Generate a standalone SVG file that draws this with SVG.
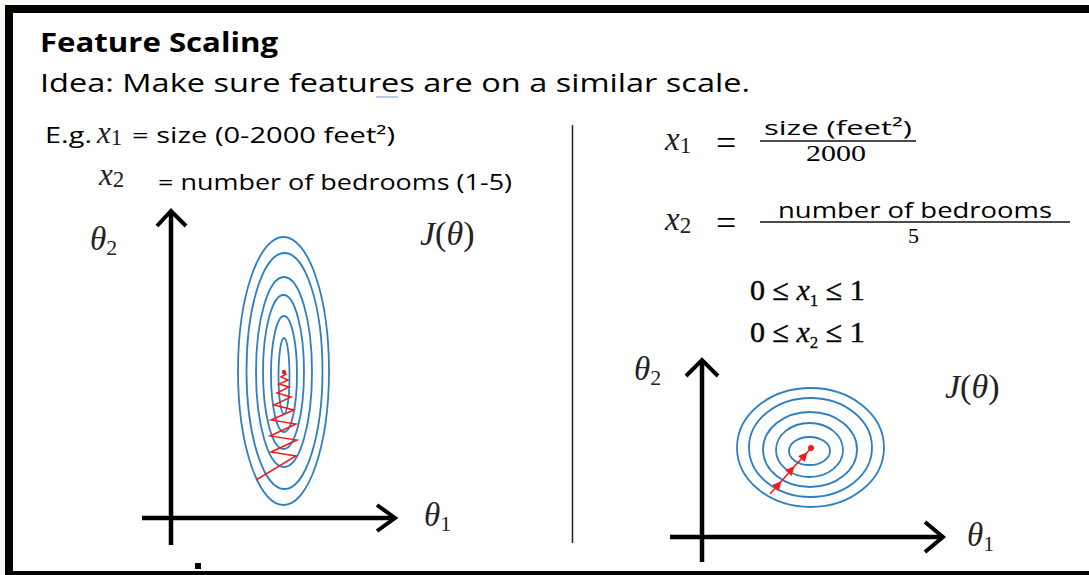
<svg xmlns="http://www.w3.org/2000/svg" width="1089" height="575" viewBox="0 0 1089 575">
<style>
.sans{font-family:"Open Sans","Liberation Sans",sans-serif;fill:#000}
.math{font-family:"Liberation Serif","DejaVu Serif",serif;fill:#222;font-style:italic}
.up{font-style:normal}
.times{font-family:"Liberation Serif",serif;fill:#000}
.axis{stroke:#000;stroke-width:4.5;fill:none;stroke-linecap:butt}
.head{stroke:#000;stroke-width:4;fill:none;stroke-linejoin:miter}
.ring{stroke:#2f7fc1;stroke-width:1.8;fill:none}
.red{stroke:#ee1c1c;stroke-width:1.5;fill:none}
</style>
<defs>
<marker id="tri" viewBox="0 0 10 10" refX="6" refY="5" markerWidth="7" markerHeight="6" orient="auto" markerUnits="strokeWidth">
<path d="M0,0 L10,5 L0,10 z" fill="#ee1c1c"/>
</marker>
</defs>
<rect x="0" y="0" width="1089" height="575" fill="#f8f7f3"/>
<rect x="5" y="5" width="1084" height="570" fill="#000"/>
<rect x="13" y="13" width="1076" height="558" fill="#fff"/>

<g id="title">
<text class="sans" x="40" y="52" font-size="26" font-weight="bold" textLength="238" lengthAdjust="spacingAndGlyphs">Feature Scaling</text>
<text class="sans" x="40" y="92" font-size="26" textLength="710" lengthAdjust="spacingAndGlyphs">Idea: Make sure features are on a similar scale.</text>
<line x1="376" y1="97" x2="398" y2="97" stroke="#8aa6dc" stroke-width="1.2"/>
</g>

<g id="example">
<text class="sans" x="45" y="143" font-size="21" textLength="47" lengthAdjust="spacingAndGlyphs">E.g.</text>
<text class="math" x="97" y="143" font-size="31">x<tspan class="up" font-size="23" dy="2">1</tspan></text>
<text class="sans" x="132" y="143" font-size="21" textLength="263" lengthAdjust="spacingAndGlyphs">= size (0-2000 feet²)</text>
<text class="math" x="99" y="185" font-size="31">x<tspan class="up" font-size="23" dy="2">2</tspan></text>
<text class="sans" x="158" y="190" font-size="21" textLength="354" lengthAdjust="spacingAndGlyphs">= number of bedrooms (1-5)</text>
</g>

<g id="divider">
<line x1="572.5" y1="125" x2="572.5" y2="543" stroke="#222" stroke-width="1.5"/>
</g>

<g id="formulas">
<text class="math" x="665" y="150" font-size="33">x<tspan class="up" font-size="23" dy="3">1</tspan></text>
<text class="times" x="716" y="155" font-size="36">=</text>
<text class="sans" x="764" y="135" font-size="20" textLength="148" lengthAdjust="spacingAndGlyphs">size (feet²)</text>
<line x1="760" y1="141" x2="916" y2="141" stroke="#111" stroke-width="1.5"/>
<text class="times" x="806" y="161" font-size="23" textLength="60" lengthAdjust="spacingAndGlyphs">2000</text>
<text class="math" x="665" y="230" font-size="33">x<tspan class="up" font-size="23" dy="3">2</tspan></text>
<text class="times" x="716" y="235" font-size="36">=</text>
<text class="sans" x="778" y="218" font-size="21" textLength="274" lengthAdjust="spacingAndGlyphs">number of bedrooms</text>
<line x1="760" y1="222" x2="1070" y2="222" stroke="#111" stroke-width="1.5"/>
<text class="times" x="908" y="243" font-size="22">5</text>
<text class="times" x="750" y="300" font-size="30" fill="#111" stroke="#111" stroke-width="0.5">0 ≤ <tspan font-style="italic" stroke-width="0.3">x</tspan><tspan font-size="17" dy="6" stroke-width="0.3">1</tspan><tspan dy="-6"> ≤ 1</tspan></text>
<text class="times" x="750" y="342" font-size="30" fill="#111" stroke="#111" stroke-width="0.5">0 ≤ <tspan font-style="italic" stroke-width="0.3">x</tspan><tspan font-size="17" dy="6" stroke-width="0.3">2</tspan><tspan dy="-6"> ≤ 1</tspan></text>
</g>

<g id="left-plot">
<line class="axis" x1="171" y1="211" x2="171" y2="545"/>
<polyline class="head" points="157,226 171,211 186,226"/>
<line class="axis" x1="142" y1="518" x2="395" y2="518"/>
<polyline class="head" points="377,505 395,518 377,531"/>
<ellipse class="ring" cx="283.5" cy="371" rx="45.5" ry="134"/>
<ellipse class="ring" cx="284.5" cy="371" rx="38" ry="118"/>
<ellipse class="ring" cx="284" cy="372" rx="28" ry="95"/>
<ellipse class="ring" cx="283.5" cy="372" rx="20.5" ry="77"/>
<ellipse class="ring" cx="284" cy="374" rx="13" ry="58"/>
<ellipse class="ring" cx="284" cy="376" rx="5.5" ry="38"/>
<polyline class="red" points="256,480 296,456 271,452 297,440 270,436 296,424 271,420 294,410 274,405 291,397 277,393 289,387 279,384 288,380 281,377 286,374 284,372"/>
<circle cx="284" cy="372" r="2.2" fill="#ee1c1c"/>
<text class="math" x="90" y="250" font-size="33">θ<tspan class="up" font-size="22" dy="5">2</tspan></text>
<text class="math" x="420" y="245" font-size="34">J<tspan class="up">(</tspan>θ<tspan class="up">)</tspan></text>
<text class="math" x="424" y="526" font-size="33">θ<tspan class="up" font-size="22" dy="5">1</tspan></text>
<rect x="195" y="563" width="6" height="6" fill="#000"/>
</g>

<g id="right-plot">
<line class="axis" x1="702" y1="361" x2="702" y2="562"/>
<polyline class="head" points="686,376 702,360 718,376"/>
<line class="axis" x1="670" y1="537" x2="943" y2="537"/>
<polyline class="head" points="925,522 943,537 925,552"/>
<ellipse class="ring" cx="810.5" cy="447.5" rx="73.5" ry="59.5"/>
<ellipse class="ring" cx="810.5" cy="447.5" rx="61.5" ry="49.5"/>
<ellipse class="ring" cx="810" cy="449.5" rx="47" ry="37.5"/>
<ellipse class="ring" cx="809.5" cy="450" rx="33.5" ry="27"/>
<ellipse class="ring" cx="809.5" cy="451" rx="20.5" ry="14"/>
<polyline class="red" points="770,494 779,484 792,469 805,455 811,448" stroke-width="2" marker-mid="url(#tri)"/>
<circle cx="811" cy="448" r="3" fill="#ee1c1c"/>
<text class="math" x="634" y="380" font-size="33">θ<tspan class="up" font-size="22" dy="5">2</tspan></text>
<text class="math" x="945" y="398" font-size="34">J<tspan class="up">(</tspan>θ<tspan class="up">)</tspan></text>
<text class="math" x="967" y="546" font-size="33">θ<tspan class="up" font-size="22" dy="5">1</tspan></text>
</g>
</svg>
